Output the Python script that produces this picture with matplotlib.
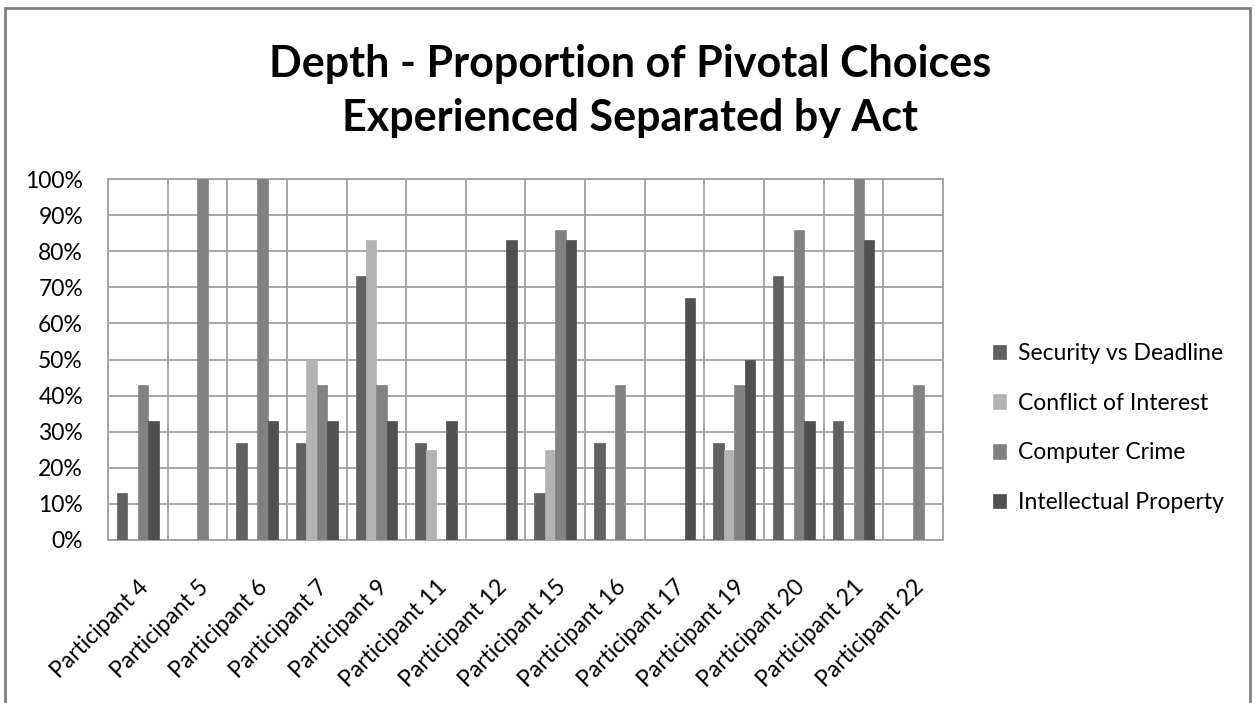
import numpy as np
import matplotlib
matplotlib.use('Agg')
import matplotlib.pyplot as plt
from matplotlib.ticker import PercentFormatter, FixedLocator
from matplotlib.patches import Rectangle

plt.rcParams['font.family'] = ['Lato', 'DejaVu Sans']

# data (percent)
participants = ['Participant 4', 'Participant 5', 'Participant 6', 'Participant 7',
                'Participant 9', 'Participant 11', 'Participant 12', 'Participant 15',
                'Participant 16', 'Participant 17', 'Participant 19', 'Participant 20',
                'Participant 21', 'Participant 22']
security_vs_deadline = [13, 0, 27, 27, 73, 27, 0, 13, 27, 0, 27, 73, 33, 0]
conflict_of_interest = [0, 0, 0, 50, 83, 25, 0, 25, 0, 0, 25, 0, 0, 0]
computer_crime = [43, 100, 100, 43, 43, 0, 0, 86, 43, 0, 43, 86, 100, 43]
intellectual_property = [33, 0, 33, 33, 33, 33, 83, 83, 0, 67, 50, 33, 83, 0]

series_names = ['Security vs Deadline', 'Conflict of Interest', 'Computer Crime',
                'Intellectual Property']
series_colors = ['#616161', '#b3b3b3', '#828282', '#505050']

fig = plt.figure(figsize=(12.55, 7.03), dpi=100)
ax = fig.add_axes([108 / 1255, 163 / 703, 835 / 1255, 361 / 703])

x = np.arange(len(participants))
bw = 0.175
all_series = [security_vs_deadline, conflict_of_interest, computer_crime, intellectual_property]
for k, (vals, name, col) in enumerate(zip(all_series, series_names, series_colors)):
    ax.bar(x + (k - 1.5) * bw, vals, width=bw, color=col, label=name, zorder=3,
           edgecolor=col, linewidth=0.5)

ax.set_xlim(-0.5, len(participants) - 0.5)
ax.set_ylim(0, 100)
ax.set_yticks(np.arange(0, 101, 10))
ax.yaxis.set_major_formatter(PercentFormatter(100, decimals=0))
ax.set_xticks(x)
ax.set_xticklabels(participants, rotation=45, ha='right', rotation_mode='anchor', fontsize=16.5)
ax.xaxis.set_minor_locator(FixedLocator(np.arange(-0.5, len(participants), 1)))
ax.tick_params(axis='y', labelsize=16.5, length=0, pad=18)
ax.tick_params(axis='x', which='both', length=0, pad=26)
ax.grid(axis='y', which='major', color='#a0a0a0', linewidth=1.3, zorder=0)
ax.grid(axis='x', which='minor', color='#a0a0a0', linewidth=1.3, zorder=0)
for sp in ax.spines.values():
    sp.set_color('#a0a0a0')
    sp.set_linewidth(1.3)

fig.text(630 / 1255, 1 - 91 / 703,
         'Depth - Proportion of Pivotal Choices\nExperienced Separated by Act',
         ha='center', va='center', fontsize=31, fontweight='bold', linespacing=1.45)

ax.legend(loc='center left', bbox_to_anchor=(972 / 1255, 1 - 428 / 703),
          bbox_transform=fig.transFigure, frameon=False, fontsize=16.5,
          handlelength=0.6, handleheight=0.6, handletextpad=0.5, labelspacing=1.25)

# outer chart border
fig.patches.append(Rectangle((5 / 1255, -0.01), 1245 / 1255, 1 - 8 / 703 + 0.01,
                             transform=fig.transFigure, fill=False,
                             edgecolor='#808080', linewidth=2))

fig.savefig('out.png', dpi=100)
